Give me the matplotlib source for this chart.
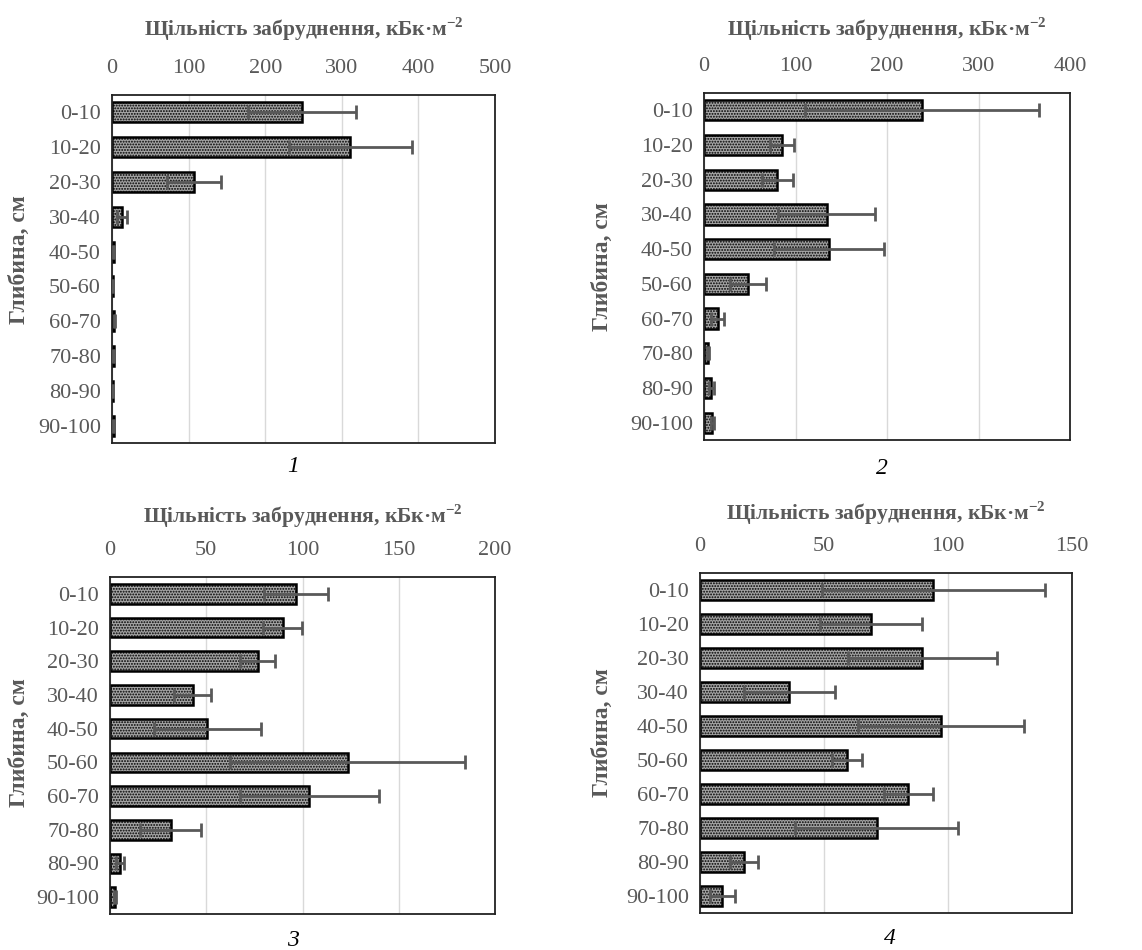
import numpy as np
import matplotlib.pyplot as plt

depths = ["0-10", "10-20", "20-30", "30-40", "40-50", "50-60", "60-70", "70-80", "80-90", "90-100"]

# contamination density, kBq/m2, and error for each of the four profiles
vals1 = [248, 311, 107, 13, 2, 1, 3, 2, 1, 2]
err1 = [70, 80, 35, 6, 0.5, 0.3, 0.5, 0.5, 0.3, 0.5]
vals2 = [238, 85, 80, 134, 137, 48, 15, 4, 8, 9]
err2 = [128, 13, 17, 53, 60, 20, 7, 1, 2.5, 1.5]
vals3 = [96.5, 89.7, 76.7, 43, 50.6, 123.5, 103.5, 31.5, 5.2, 2.6]
err3 = [16.5, 10, 9, 9.5, 28, 61, 36, 16, 2, 0.5]
vals4 = [94, 69, 89.6, 36, 97.2, 59.3, 84, 71.2, 17.7, 9]
err4 = [45, 20.5, 30, 18.4, 33.4, 6, 10, 32.7, 5.5, 5]

xmax = [500, 400, 200, 150]
xstep = [100, 100, 50, 50]
labels = ["1", "2", "3", "4"]

plt.rcParams['font.family'] = ['Liberation Serif', 'DejaVu Serif']
plt.rcParams['mathtext.fontset'] = 'custom'
plt.rcParams['mathtext.rm'] = 'Liberation Serif'
plt.rcParams['mathtext.bf'] = 'Liberation Serif:bold'
plt.rcParams['hatch.linewidth'] = 0.9

W, H = 1142, 950
fig = plt.figure(figsize=(W / 100, H / 100), dpi=100)
grey = '#595959'

# axes boxes in pixels: left, top, right, bottom
boxes = [(112, 95, 495, 443), (704, 93, 1070, 440),
         (110, 577, 495, 914), (700, 573, 1072, 913)]
title_y = [29, 29, 516, 513]
ylab_pos = [(19, 260), (602, 267), (19, 743), (602, 733)]
num_pos = [(293, 466), (882, 468), (293, 940), (890, 938)]

data = [(vals1, err1), (vals2, err2), (vals3, err3), (vals4, err4)]
y = np.arange(len(depths))

for i, (vals, errs) in enumerate(data):
    l, t, r, b = boxes[i]
    ax = fig.add_axes([l / W, 1 - b / H, (r - l) / W, (b - t) / H])
    ax.barh(y, vals, height=0.58, color='#a4a4a4', edgecolor='black',
            linewidth=1.8, hatch='......', zorder=2)
    ax.errorbar(vals, y, xerr=errs, fmt='none', ecolor=grey, elinewidth=2,
                capsize=5, capthick=2, zorder=3)
    ax.set_xlim(0, xmax[i])
    ax.set_ylim(len(depths) - 0.5, -0.5)
    ax.set_xticks(np.arange(0, xmax[i] + 1, xstep[i]))
    ax.set_yticks(y)
    ax.set_yticklabels(depths)
    ax.xaxis.tick_top()
    ax.tick_params(axis='x', length=0, pad=12, labelsize=16, labelcolor=grey)
    ax.tick_params(axis='y', length=0, pad=8, labelsize=16, labelcolor=grey)
    ax.grid(axis='x', color='#d9d9d9', linewidth=1, zorder=0)
    ax.set_axisbelow(True)
    for s in ax.spines.values():
        s.set_color('#222222')
        s.set_linewidth(1.3)

    cx = (l + r) / 2
    fig.text(cx / W, 1 - title_y[i] / H, r'Щільність забруднення, кБк·м$^{\mathbf{-2}}$',
             ha='center', va='center', fontsize=15.5, fontweight='bold', color=grey)
    fig.text(ylab_pos[i][0] / W, 1 - ylab_pos[i][1] / H, 'Глибина, см', rotation=90,
             ha='center', va='center', fontsize=17, fontweight='bold', color=grey)
    fig.text(num_pos[i][0] / W, 1 - num_pos[i][1] / H, labels[i], ha='center',
             va='center', fontsize=17, style='italic', color='black')

fig.savefig('out.png', dpi=100)
